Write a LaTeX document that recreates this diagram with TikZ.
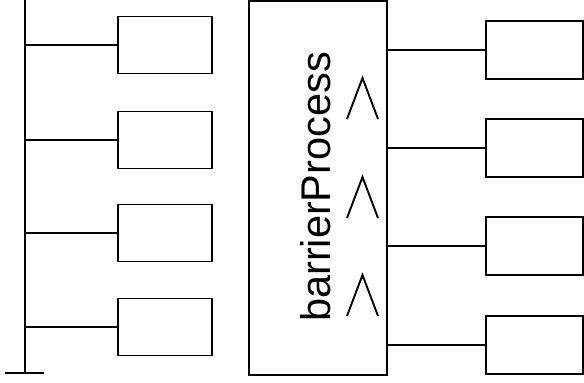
\documentclass[tikz,border=0pt]{standalone}
\usepackage{fontspec}
\setmainfont{Liberation Sans}
\begin{document}
\begin{tikzpicture}[x=1pt,y=-1pt,line width=1.7pt,
  box/.style={draw,rectangle,inner sep=0pt,minimum width=94pt,minimum height=57pt},
  rbox/.style={draw,rectangle,inner sep=0pt,minimum width=97pt,minimum height=58pt},
  chev/.style={line width=1.9pt,line join=miter}]
\useasboundingbox (0,0) rectangle (584,383);
% left bus
\coordinate (bt) at (25,0);
\coordinate (bb) at (25,373);
\coordinate (bl) at (5,373);
\coordinate (br) at (44,373);
\coordinate (tl) at (5,-1.2);
\coordinate (tr) at (44,-1.2);
\draw (bt) -- (bb);
\draw (bl) -- (br);
\draw (tl) -- (tr);
% left boxes
\foreach \i/\y in {1/45,2/140,3/233,4/327}{
  \node[box] (L\i) at (165,\y) {};
  \coordinate (J\i) at (25,\y);
  \draw (J\i) -- (L\i.west);
}
% big box
\node[draw,rectangle,inner sep=0pt,minimum width=138pt,minimum height=374pt] (P) at (318,188) {};
\node[rotate=90,font=\fontsize{41.5}{41.5}\selectfont,inner sep=0pt] (T) at (315.5,187) {barrierProcess};
% chevrons
\foreach \y in {78,177,275}{
  \draw[chev] (347,\y+41) -- (362.5,\y) -- (378,\y+41);
}
% right boxes
\foreach \i/\y in {1/50,2/148,3/246,4/345}{
  \node[rbox] (R\i) at (534.5,\y) {};
  \draw (P.east |- R\i.west) -- (R\i.west);
}
\end{tikzpicture}
\end{document}
